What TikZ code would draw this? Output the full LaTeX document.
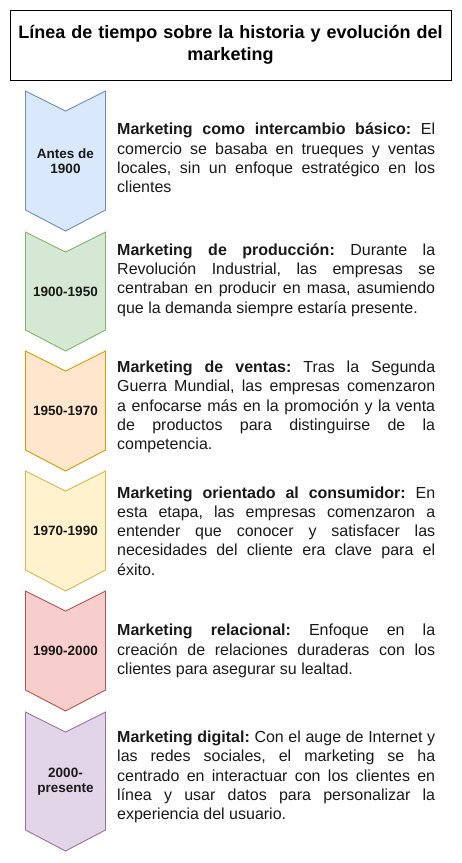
\documentclass[tikz,border=0pt]{standalone}
\usepackage{fontspec}
\setmainfont{Liberation Sans}
\usetikzlibrary{positioning}
\tolerance=10000
\hbadness=10000
\frenchspacing
\definecolor{azulF}{HTML}{DAE8FC}
\definecolor{azulB}{HTML}{6C8EBF}
\definecolor{verdeF}{HTML}{D5E8D4}
\definecolor{verdeB}{HTML}{82B366}
\definecolor{naranjaF}{HTML}{FFE6CC}
\definecolor{naranjaB}{HTML}{D79B00}
\definecolor{amarilloF}{HTML}{FFF2CC}
\definecolor{amarilloB}{HTML}{D6B656}
\definecolor{rojoF}{HTML}{F8CECC}
\definecolor{rojoB}{HTML}{B85450}
\definecolor{moradoF}{HTML}{E1D5E7}
\definecolor{moradoB}{HTML}{9673A6}
\tikzstyle{titulo} = [rectangle, draw=black, line width=0.9pt, minimum width=441pt, minimum height=70pt, text width=425pt, align=center, font=\fontsize{18}{22}\selectfont\bfseries]
\tikzstyle{chevron} = [line width=0.9pt, line join=miter]
\tikzstyle{etapa} = [align=center, inner sep=0pt, text=black!90, font=\fontsize{13.5}{15.5}\selectfont\bfseries]
\tikzstyle{detalle} = [anchor=west, text width=318pt, align=justify, inner sep=0pt, text=black!90, font=\fontsize{16}{19.2}\selectfont\frenchspacing]

\begin{document}
\begin{tikzpicture}[x=1pt, y=-1pt]
    \useasboundingbox (0,0) rectangle (462,863);

    % Titulo
    \node (titulo) [titulo] at (230.5,45) {Línea de tiempo sobre la historia y evolución del\\marketing};

    % Flechas de las etapas
    \foreach \n/\ya/\yb/\rel/\bor/\lab in {
        1/91/231/azulF/azulB/{Antes de\\1900},
        2/232/351/verdeF/verdeB/{1900-1950},
        3/351/471/naranjaF/naranjaB/{1950-1970},
        4/471/591/amarilloF/amarilloB/{1970-1990},
        5/591/711/rojoF/rojoB/{1990-2000},
        6/712/851/moradoF/moradoB/{2000-\\presente}} {
        \draw [chevron, fill=\rel, draw=\bor] (25.5,\ya) -- (65.5,\ya+20) -- (105.5,\ya) -- (105.5,\yb-21) -- (65.5,\yb) -- (25.5,\yb-21) -- cycle;
        \node (etapa\n) [etapa] at (65.5,{(\ya+\yb)/2}) {\lab};
    }

    % Descripciones
    \node (desc1) [detalle] at (117,158) {\textbf{Marketing como intercambio básico:} El\linebreak comercio se basaba en trueques y ventas\linebreak locales, sin un enfoque estratégico en los\linebreak clientes};
    \node (desc2) [detalle] at (117,280) {\textbf{Marketing de producción:} Durante la\linebreak Revolución Industrial, las empresas se\linebreak centraban en producir en masa, asumiendo\linebreak que la demanda siempre estaría presente.};
    \node (desc3) [detalle] at (117,407) {\textbf{Marketing de ventas:} Tras la Segunda\linebreak Guerra Mundial, las empresas comenzaron\linebreak a enfocarse más en la promoción y la venta\linebreak de productos para distinguirse de la\linebreak competencia.};
    \node (desc4) [detalle] at (117,531) {\textbf{Marketing orientado al consumidor:} En\linebreak esta etapa, las empresas comenzaron a\linebreak entender que conocer y satisfacer las\linebreak necesidades del cliente era clave para el\linebreak éxito.};
    \node (desc5) [detalle] at (117,651) {\textbf{Marketing relacional:} Enfoque en la\linebreak creación de relaciones duraderas con los\linebreak clientes para asegurar su lealtad.};
    \node (desc6) [detalle] at (117,777) {\textbf{Marketing digital:} Con el auge de Internet y\linebreak las redes sociales, el marketing se ha\linebreak centrado en interactuar con los clientes en\linebreak línea y usar datos para personalizar la\linebreak experiencia del usuario.};

\end{tikzpicture}
\end{document}
